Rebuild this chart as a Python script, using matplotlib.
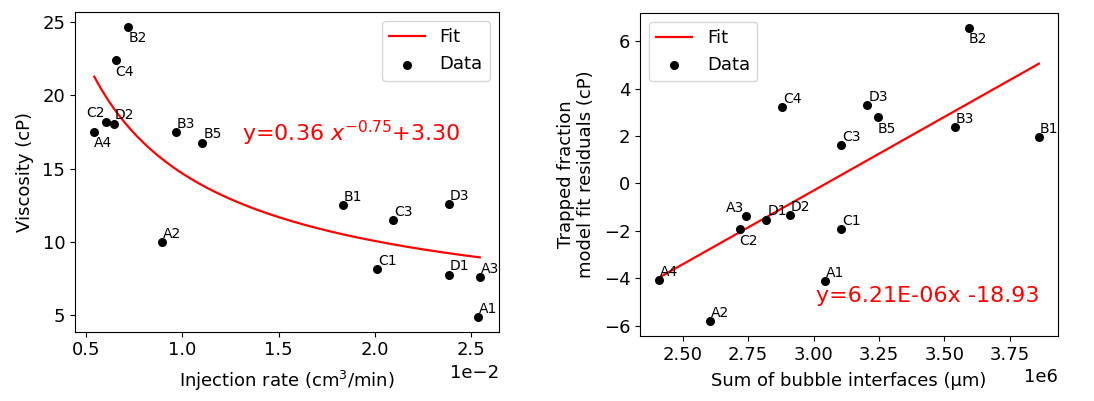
import numpy as np
import matplotlib
matplotlib.use('Agg')
import matplotlib.pyplot as plt
from matplotlib.ticker import MultipleLocator

# sample names shared by both panels
samples = ['A1', 'A2', 'A3', 'A4', 'B1', 'B2', 'B3', 'B5',
           'C1', 'C2', 'C3', 'C4', 'D1', 'D2', 'D3']

# left panel: injection rate (cm3/min) vs viscosity (cP)
injection_rate = [0.02533, 0.00894, 0.02544, 0.00544, 0.01833, 0.00720, 0.00967, 0.01105,
                  0.02013, 0.00605, 0.02096, 0.00655, 0.02384, 0.00645, 0.02384]
viscosity = [4.88, 9.99, 7.60, 17.51, 12.52, 24.69, 17.51, 16.78,
             8.16, 18.21, 11.51, 22.38, 7.78, 18.08, 12.56]

# right panel: sum of bubble interfaces (um) vs residuals (cP)
interfaces = [3.045e6, 2.604e6, 2.740e6, 2.409e6, 3.861e6, 3.593e6, 3.540e6, 3.246e6,
              3.104e6, 2.717e6, 3.104e6, 2.880e6, 2.819e6, 2.910e6, 3.205e6]
residuals = [-4.13, -5.81, -1.38, -4.06, 1.94, 6.57, 2.36, 2.78,
             -1.94, -1.93, 1.60, 3.21, -1.52, -1.32, 3.31]

# fitted models as printed on the chart
pow_a, pow_b, pow_c = 0.36, -0.75, 3.30
lin_m, lin_k = 6.21e-06, -18.93

# label placement (offset points)
default_off = (0.7, 3)
left_offsets = {'B2': (0, -11), 'C4': (0, -11), 'A4': (0, -11), 'C2': (-14, 3)}
right_offsets = {'B2': (0, -11), 'B5': (0, -11), 'C2': (0, -11), 'A3': (-14, 3)}

plt.rcParams['font.size'] = 13


def label_points(ax, xs, ys, offsets):
    for name, x, y in zip(samples, xs, ys):
        ax.annotate(name, (x, y), xytext=offsets.get(name, default_off),
                    textcoords='offset points', ha='left', va='baseline', fontsize=10)


fig = plt.figure(figsize=(10.94, 4.01), dpi=100)
ax1 = fig.add_axes([0.0686, 0.173, 0.3876, 0.797])
ax2 = fig.add_axes([0.585, 0.162, 0.382, 0.806])

# left
xf = np.linspace(min(injection_rate), max(injection_rate), 200)
ax1.plot(xf, pow_a * xf ** pow_b + pow_c, color='red', lw=1.6, label='Fit')
ax1.scatter(injection_rate, viscosity, s=30, color='black', label='Data', zorder=3)
label_points(ax1, injection_rate, viscosity, left_offsets)
ax1.ticklabel_format(axis='x', style='sci', scilimits=(0, 0))
ax1.yaxis.set_major_locator(MultipleLocator(5))
ax1.set_xlabel('Injection rate (cm$^3$/min)', labelpad=7)
ax1.set_ylabel('Viscosity (cP)', labelpad=6)
ax1.text(0.394, 0.597, r'y=0.36 $x^{-0.75}$+3.30', transform=ax1.transAxes,
         color='red', fontsize=16, va='baseline')
ax1.legend(loc='upper right')

# right
xl = np.linspace(min(interfaces), max(interfaces), 2)
ax2.plot(xl, lin_m * xl + lin_k, color='red', lw=1.6, label='Fit')
ax2.scatter(interfaces, residuals, s=30, color='black', label='Data', zorder=3)
label_points(ax2, interfaces, residuals, right_offsets)
ax2.xaxis.set_major_locator(MultipleLocator(0.25e6))
ax2.set_xlabel('Sum of bubble interfaces (µm)', labelpad=6)
ax2.set_ylabel('Trapped fraction\nmodel fit residuals (cP)', labelpad=6)
ax2.text(0.421, 0.106, 'y=6.21E-06x -18.93', transform=ax2.transAxes,
         color='red', fontsize=16, va='baseline')
ax2.legend(loc='upper left')

fig.savefig('out.png', dpi=100)
